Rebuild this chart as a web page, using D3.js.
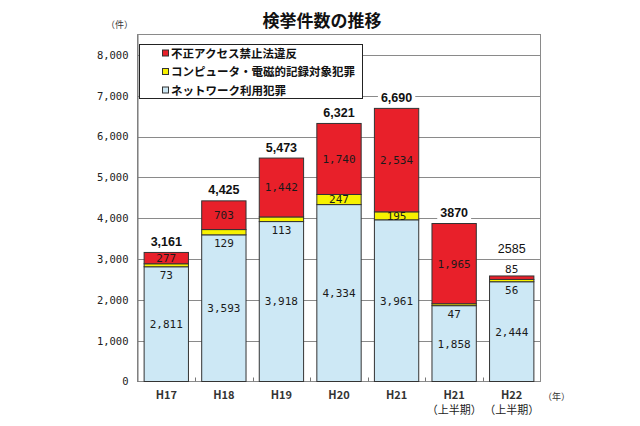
<!DOCTYPE html>
<html><head><meta charset="utf-8">
<script src="https://cdn.jsdelivr.net/npm/d3@7"></script>
<style>
html,body{margin:0;padding:0;background:#fff;}
svg{display:block;}
</style></head>
<body>
<svg id="chart" width="640" height="426"></svg>
<script>
// ---- data ----
const categories = ["H17","H18","H19","H20","H21","H21(上半期)","H22(上半期)"];
const networkCrime = [2811,3593,3918,4334,3961,1858,2444];
const computerCrime = [73,129,113,247,195,47,56];
const unauthorizedAccess = [277,703,1442,1740,2534,1965,85];
const totalLabels = ["3,161","4,425","5,473","6,321","6,690","3870","2585"];
const seriesNames = ["ネットワーク利用犯罪","コンピュータ・電磁的記録対象犯罪","不正アクセス禁止法違反"];
const legendOrder = ["不正アクセス禁止法違反","コンピュータ・電磁的記録対象犯罪","ネットワーク利用犯罪"];
const yTicks = [0,1000,2000,3000,4000,5000,6000,7000,8000];
const title = "検挙件数の推移";

const colors = {"ネットワーク利用犯罪":"#cde8f5","コンピュータ・電磁的記録対象犯罪":"#f7f100","不正アクセス禁止法違反":"#e8202a"};

const svg = d3.select("#chart");
const L = 137.5, R = 540.5, T = 34.5, B = 381.5;
const jp = "'Noto Sans CJK JP', sans-serif";
const mono = "'DejaVu Sans Mono', monospace";

const x = d3.scaleBand().domain(categories).range([L, R]).paddingInner(0.23).paddingOuter(0.115);
const y = d3.scaleLinear().domain([0, 8500]).range([B, T]);

const rows = categories.map((c,i)=>({cat:c,
  [seriesNames[0]]:networkCrime[i],[seriesNames[1]]:computerCrime[i],[seriesNames[2]]:unauthorizedAccess[i]}));
const stack = d3.stack().keys(seriesNames)(rows);

// gridlines
svg.append("g").selectAll("line").data(yTicks.filter(d=>d>0)).join("line")
  .attr("x1",L).attr("x2",R).attr("y1",d=>Math.round(y(d))+0.5).attr("y2",d=>Math.round(y(d))+0.5)
  .attr("stroke","#8a8a8a").attr("stroke-width",1);

// plot border
svg.append("rect").attr("x",L).attr("y",T).attr("width",R-L).attr("height",B-T)
  .attr("fill","none").attr("stroke","#8a8a8a");

// y axis
const yAxis = d3.axisLeft(y).tickValues(yTicks).tickSize(0).tickPadding(9).tickFormat(d3.format(","));
const ya = svg.append("g").attr("transform",`translate(${L},0)`).call(yAxis);
ya.select(".domain").attr("stroke","#777");
ya.selectAll("text").attr("font-family",mono).attr("font-size","10.5px").attr("fill","#222");

// bottom small ticks at band boundaries
const step = x.step();
svg.append("g").selectAll("line").data(categories.slice(1)).join("line")
  .attr("x1",d=>Math.round(x(d)-step*x.paddingInner()/2)+0.5)
  .attr("x2",d=>Math.round(x(d)-step*x.paddingInner()/2)+0.5)
  .attr("y1",B).attr("y2",B-4).attr("stroke","#777");

// bars
svg.append("g").selectAll("g").data(stack).join("g")
  .attr("fill",d=>colors[d.key])
  .selectAll("rect").data(d=>d).join("rect")
  .attr("x",d=>x(d.data.cat)).attr("width",x.bandwidth())
  .attr("y",d=>y(d[1])).attr("height",d=>y(d[0])-y(d[1]))
  .attr("stroke","#333").attr("stroke-width",1);

// segment labels
const fmt = d3.format(",");
const segLabels = [];
stack.forEach((s,si)=>{
  s.forEach((d,i)=>{
    const v = d[1]-d[0];
    let yy;
    if (si===0) yy = (y(d[0])+y(d[1]))/2;
    else if (si===1) yy = v>=150 ? (y(d[0])+y(d[1]))/2 : y(d[0])+8;
    else yy = v>=200 ? (y(d[0])+y(d[1]))/2 : y(d[1])-7;
    segLabels.push({x:x(d.data.cat)+x.bandwidth()/2, y:yy, t:fmt(v)});
  });
});
svg.append("g").selectAll("text").data(segLabels).join("text")
  .attr("x",d=>d.x).attr("y",d=>d.y).attr("dy","0.36em").attr("text-anchor","middle")
  .attr("font-family",mono).attr("font-size","11px").attr("fill","#1a1a1a").text(d=>d.t);

// total labels
const topSeries = stack[stack.length-1];
const totG = svg.append("g");
topSeries.forEach((d,i)=>{
  const extra = unauthorizedAccess[i] < 200 ? 16 : 0;
  const cy = y(d[1]) - 11 - extra;
  const cx = x(d.data.cat)+x.bandwidth()/2;
  const g = totG.append("g");
  const t = g.append("text").attr("x",cx).attr("y",cy).attr("dy","0.36em").attr("text-anchor","middle")
    .attr("font-family","'Liberation Sans', Arial, sans-serif").attr("font-size","12.5px")
    .attr("font-weight", i===6 ? "normal" : "bold").attr("fill","#111").text(totalLabels[i]);
  const bb = t.node().getBBox();
  g.insert("rect","text").attr("x",bb.x-3).attr("y",bb.y).attr("width",bb.width+6).attr("height",bb.height).attr("fill","#fff");
});

// x labels
const xl = svg.append("g");
categories.forEach(c=>{
  const cx = x(c)+x.bandwidth()/2;
  const parts = c.split("(");
  xl.append("text").attr("x",cx).attr("y",399).attr("text-anchor","middle")
    .attr("font-family",jp).attr("font-size","11px").attr("font-weight","bold").attr("fill","#333").text(parts[0]);
  if (parts[1]) xl.append("text").attr("x",cx).attr("y",414).attr("text-anchor","middle")
    .attr("font-family",jp).attr("font-size","11px").attr("fill","#222").text("（"+parts[1].replace(")","")+"）");
});
svg.append("text").attr("x",543).attr("y",400).attr("font-family",jp).attr("font-size","9px").attr("fill","#333").text("（年）");
svg.append("text").attr("x",106).attr("y",28).attr("font-family",jp).attr("font-size","9px").attr("fill","#333").text("（件）");

// title
svg.append("text").attr("x",322).attr("y",27).attr("text-anchor","middle")
  .attr("font-family",jp).attr("font-size","17px").attr("font-weight","bold").attr("fill","#111").text(title);

// legend
const lg = svg.append("g");
lg.append("rect").attr("x",139.5).attr("y",44.5).attr("width",223).attr("height",54).attr("fill","#fff").attr("stroke","#222");
legendOrder.forEach((k,i)=>{
  const yy = 53.5 + i*18.5;
  lg.append("rect").attr("x",162.5).attr("y",yy-3.5).attr("width",6).attr("height",6)
    .attr("fill",colors[k]).attr("stroke","#333");
  lg.append("text").attr("x",171).attr("y",yy).attr("dy","0.36em")
    .attr("font-family",jp).attr("font-size","11.5px").attr("font-weight","bold").attr("fill","#111").text(k);
});
</script>
</body></html>
